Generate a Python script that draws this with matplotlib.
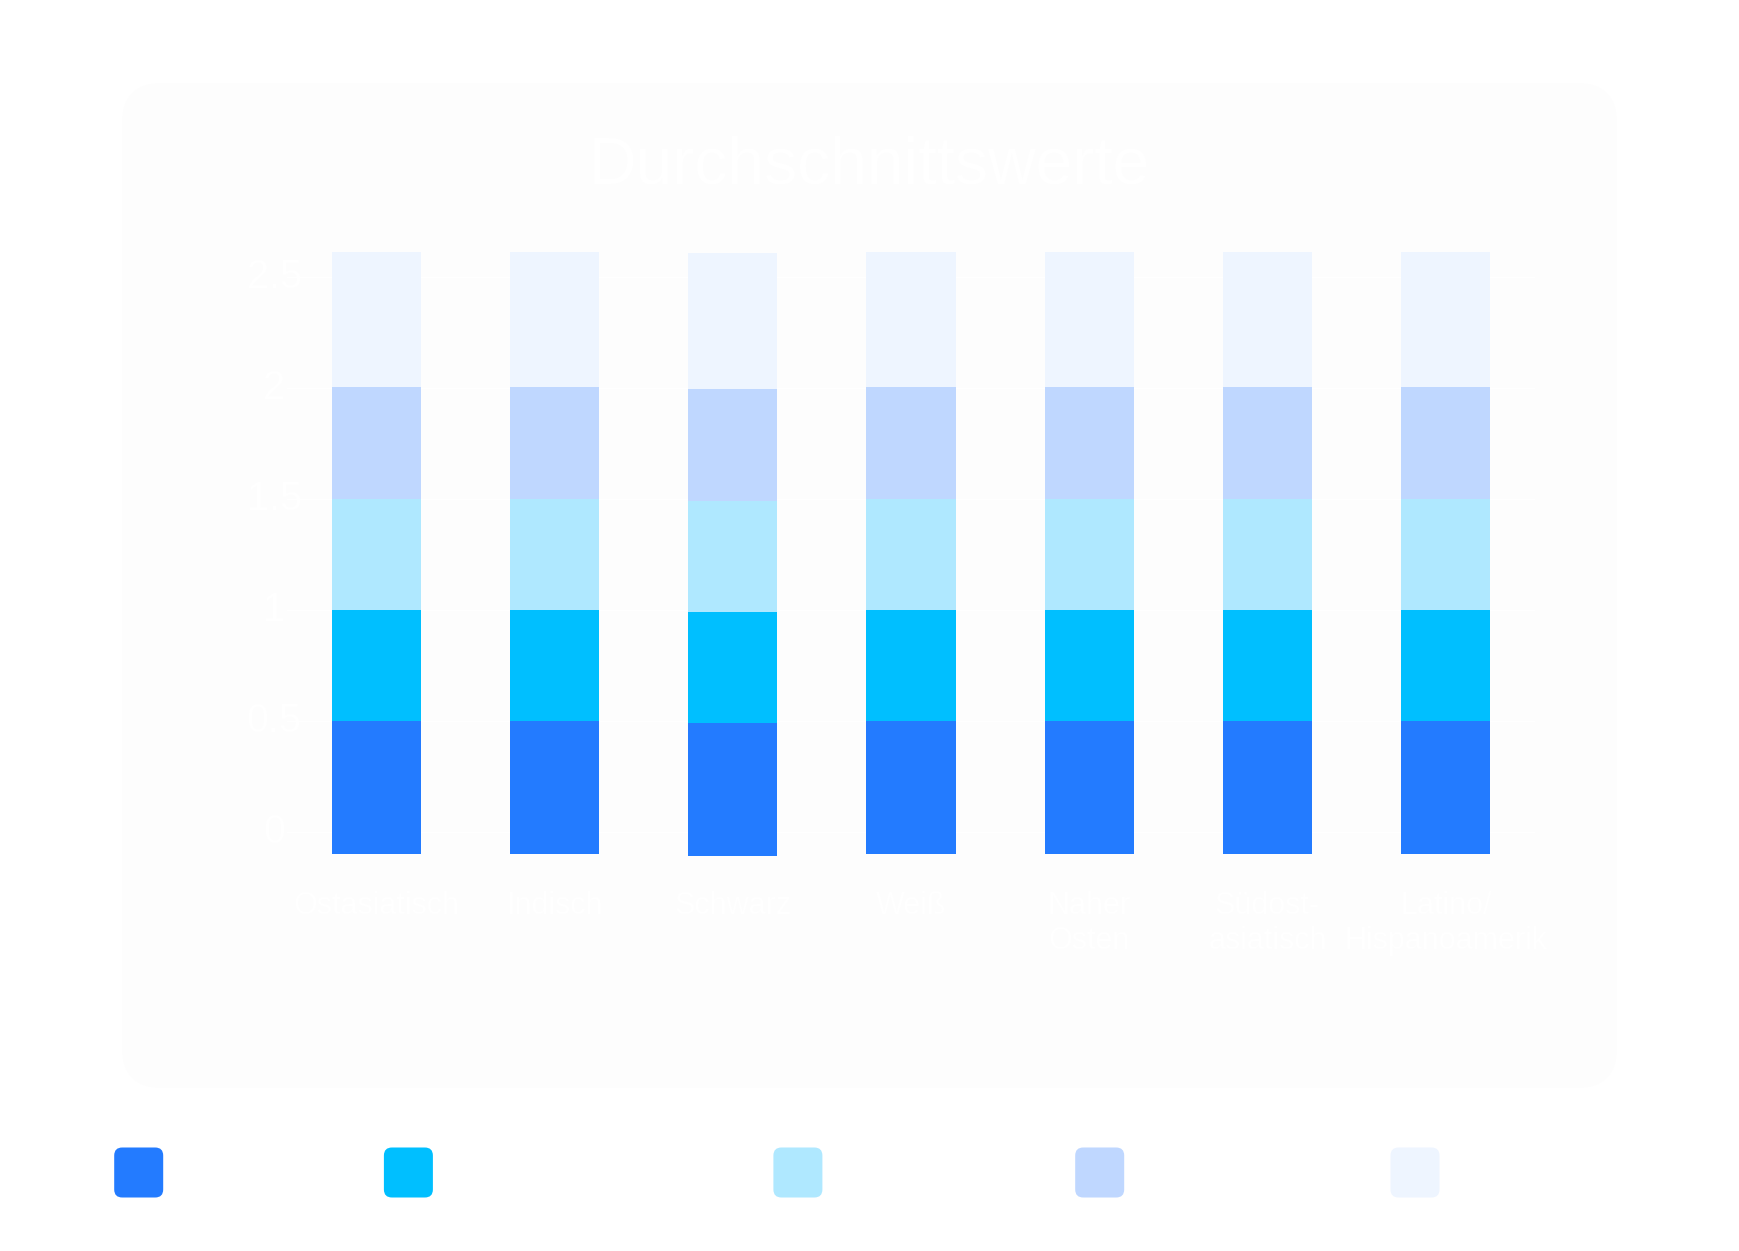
import matplotlib.pyplot as plt
from matplotlib.patches import FancyBboxPatch
from matplotlib.transforms import IdentityTransform

W, H = 1740, 1251

categories = ["Ostasiatisch", "Indisch", "Schwarz", "Weiß", "Naher\nOsten",
              "Südost-\nasiatisch", "Latino/\nHispanoamerik"]
series_names = ["Attraktivität", "Vertrauenswürdigkeit", "Intelligenz",
                "Dominanz", "Wärme"]
# start of each stacked bar (bars begin slightly below zero in the reference)
base = [-0.1, -0.1, -0.107, -0.1, -0.1, -0.1, -0.1]
s1 = [0.6, 0.6, 0.6, 0.6, 0.6, 0.6, 0.6]
s2 = [0.5, 0.5, 0.5, 0.5, 0.5, 0.5, 0.5]
s3 = [0.5, 0.5, 0.5, 0.5, 0.5, 0.5, 0.5]
s4 = [0.505, 0.505, 0.505, 0.505, 0.505, 0.505, 0.505]
s5 = [0.61, 0.61, 0.61, 0.61, 0.61, 0.61, 0.61]
yticks = [0, 0.5, 1, 1.5, 2, 2.5]
ytick_labels = ["0", "0.5", "1", "1.5", "2", "2.5"]

colors = ["#237bff", "#00bfff", "#afe8ff", "#bfd7ff", "#eef5ff"]

plt.rcParams['font.family'] = ['Liberation Sans', 'DejaVu Sans']

fig = plt.figure(figsize=(W / 100, H / 100), dpi=100)
fig.patch.set_facecolor("white")


def px(x, y, w, h):
    # pixel box (top-left origin) -> display coords
    return x, H - y - h, w, h


# card shadow + card
for k in range(8, 0, -1):
    e = k * 4
    x, y, w, h = px(122 - e, 83 - e + 6, 1495 + 2 * e, 1005 + 2 * e)
    fig.add_artist(FancyBboxPatch((x, y), w, h,
                                  boxstyle=f"round,pad=0,rounding_size={40 + e}",
                                  transform=IdentityTransform(),
                                  facecolor="#000000", edgecolor="none",
                                  alpha=0.0012, zorder=-10))
x, y, w, h = px(122, 83, 1495, 1005)
fig.add_artist(FancyBboxPatch((x, y), w, h, boxstyle="round,pad=0,rounding_size=40",
                              transform=IdentityTransform(),
                              facecolor="#fdfdfd", edgecolor="none", zorder=-5))

ax_top, ax_bot = 248.4, 858.9
ax = fig.add_axes([287 / W, 1 - ax_bot / H, 1248 / W, (ax_bot - ax_top) / H])
ax.set_facecolor("none")

xpos = list(range(len(categories)))
bottom = list(base)
for vals, col in zip([s1, s2, s3, s4, s5], colors):
    ax.bar(xpos, vals, width=0.5, bottom=bottom, color=col, zorder=3)
    bottom = [b + v for b, v in zip(bottom, vals)]

ax.set_xlim(-0.5, len(categories) - 0.5)
ax.set_ylim(-0.12, 2.63)
ax.set_yticks(yticks)
ax.set_yticklabels(ytick_labels, fontsize=28.5, color="white")
for lab in ax.get_yticklabels():
    lab.set_horizontalalignment("center")
    lab.set_verticalalignment("center")
ax.tick_params(axis="y", length=0, pad=9)
ax.set_xticks(xpos)
ax.set_xticklabels(categories, fontsize=22, color="white", linespacing=1.22)
ax.tick_params(axis="x", length=0, pad=23)
ax.grid(axis="y", color="white", linewidth=1, zorder=0)
for s in ax.spines.values():
    s.set_visible(False)

fig.text(869 / W, 1 - 167 / H, "Durchschnittswerte", ha="center", va="center",
         fontsize=47.5, color="white")

# legend below the card
legend_x = [138.7, 408.4, 797.9, 1099.7, 1415]
for lx, name, col in zip(legend_x, series_names, colors):
    x, y, w, h = px(lx - 24.5, 1172.5 - 25, 49, 50)
    fig.add_artist(FancyBboxPatch((x, y), w, h, boxstyle="round,pad=0,rounding_size=8",
                                  transform=IdentityTransform(),
                                  facecolor=col, edgecolor="none", zorder=2))
    fig.text((lx + 38) / W, 1 - 1172.5 / H, name, ha="left", va="center",
             fontsize=21, color="white")

fig.savefig("out.png", dpi=100, facecolor="white")
